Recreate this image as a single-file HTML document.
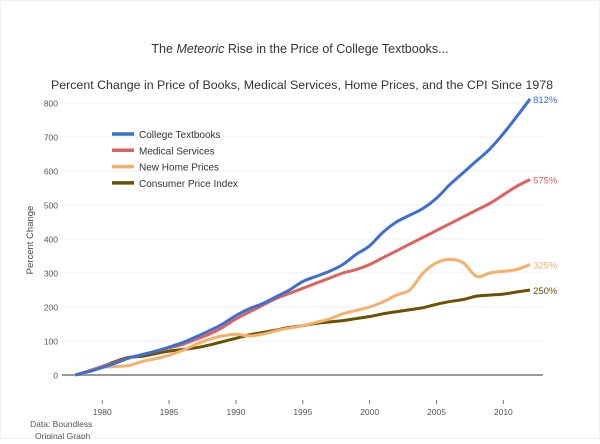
<!DOCTYPE html>
<html><head><meta charset="utf-8"><style>
body{margin:0;background:#fff;font-family:"Liberation Sans",sans-serif}
svg text{font-family:"Liberation Sans",sans-serif}
</style></head><body>
<svg id="c" width="600" height="439">
<rect x="0.5" y="0.5" width="599" height="438" fill="#fff" stroke="#f0f0f0"/>
<text x="300" y="53" text-anchor="middle" font-size="12.5" fill="#333">The <tspan font-style="italic">Meteoric</tspan> Rise in the Price of College Textbooks...</text>
<text x="302" y="89" text-anchor="middle" font-size="12.4" fill="#333">Percent Change in Price of Books, Medical Services, Home Prices, and the CPI Since 1978</text>
<text transform="translate(33,240) rotate(-90)" text-anchor="middle" font-size="9.5" fill="#444">Percent Change</text>
<text x="30" y="427" font-size="8.5" fill="#555">Data: Boundless</text>
<text x="35" y="439" font-size="8.5" fill="#555">Original Graph</text>
<g id="grid"></g><g id="series"></g><g id="legend"></g>
</svg>
<script>
const years=[];for(let y=1978;y<=2012;y++)years.push(y);
const textbooks=[0,10,22,35,50,60,70,82,95,112,130,150,175,195,210,230,250,275,290,305,325,355,380,420,450,470,490,520,560,595,630,665,710,760,812];
const medical=[0,12,25,37,50,60,70,80,90,105,120,140,165,185,205,225,240,255,270,285,300,310,325,345,365,385,405,425,445,465,485,505,530,555,575];
const homes=[0,10,22,25,28,40,48,58,72,90,105,115,120,115,120,130,138,145,155,165,180,190,200,215,235,250,300,330,340,330,290,300,305,310,325];
const cpi=[0,12,25,40,52,55,63,70,75,80,88,98,108,118,125,132,140,145,152,156,160,166,172,180,186,192,198,208,216,222,232,235,238,244,250];
const yTicks=[0,100,200,300,400,500,600,700,800];
const xTicks=[1980,1985,1990,1995,2000,2005,2010];
const names=["College Textbooks","Medical Services","New Home Prices","Consumer Price Index"];
const endLabels=["812%","575%","325%","250%"];
const colors=["#3b6fd4","#e0605e","#f5b06b","#6b5200"];
const X=y=>75.5+(y-1978)*13.37, Y=v=>375-v*0.34;
const NS="http://www.w3.org/2000/svg";
function mk(t,a,p){const e=document.createElementNS(NS,t);for(const k in a)e.setAttribute(k,a[k]);p.appendChild(e);return e;}
function smooth(pts){let d='M'+pts[0][0]+','+pts[0][1];for(let i=0;i<pts.length-1;i++){const p0=pts[i-1]||pts[i],p1=pts[i],p2=pts[i+1],p3=pts[i+2]||p2;const t=6;d+='C'+(p1[0]+(p2[0]-p0[0])/t)+','+(p1[1]+(p2[1]-p0[1])/t)+' '+(p2[0]-(p3[0]-p1[0])/t)+','+(p2[1]-(p3[1]-p1[1])/t)+' '+p2[0]+','+p2[1];}return d;}
const g=document.getElementById('grid');
yTicks.forEach(v=>{
 const l=mk('line',{x1:62,x2:543,y1:Y(v),y2:Y(v),stroke:v?'#f0f0f0':'#999','stroke-width':v?1:2},g);
 
 
 const t=mk('text',{x:58,y:Y(v)+3.5,'text-anchor':'end','font-size':8.5,fill:'#555'},g);t.textContent=v;
 
 
});
xTicks.forEach(y=>{
 const l=mk('line',{x1:X(y),x2:X(y),y1:400,y2:404,stroke:'#777'},g);
 
 
 const t=mk('text',{x:X(y),y:415,'text-anchor':'middle','font-size':8.5,fill:'#555'},g);t.textContent=y;
 
 
});
const s=document.getElementById('series'),lg=document.getElementById('legend');
[textbooks,medical,homes,cpi].map((d,i)=>[d,i]).reverse().forEach(([d,i])=>{
 const p=mk('path',{d:smooth(d.map((v,j)=>[X(years[j]),Y(v)])),fill:'none',stroke:colors[i],'stroke-width':3,'stroke-linejoin':'round'},s);
 
 
 const t=mk('text',{x:X(2012)+3,y:Y(d[d.length-1])+4,'font-size':9.5,fill:colors[i]},s);t.textContent=endLabels[i];
 
 
});
names.forEach((n,i)=>{
 const y=134+i*16.3;
 const l=mk('line',{x1:112,x2:134,y1:y,y2:y,stroke:colors[i],'stroke-width':3.5},lg);
 
 
 const t=mk('text',{x:139,y:y+4,'font-size':10,fill:'#333'},lg);t.textContent=n;
 
 
});
</script>
</body></html>
